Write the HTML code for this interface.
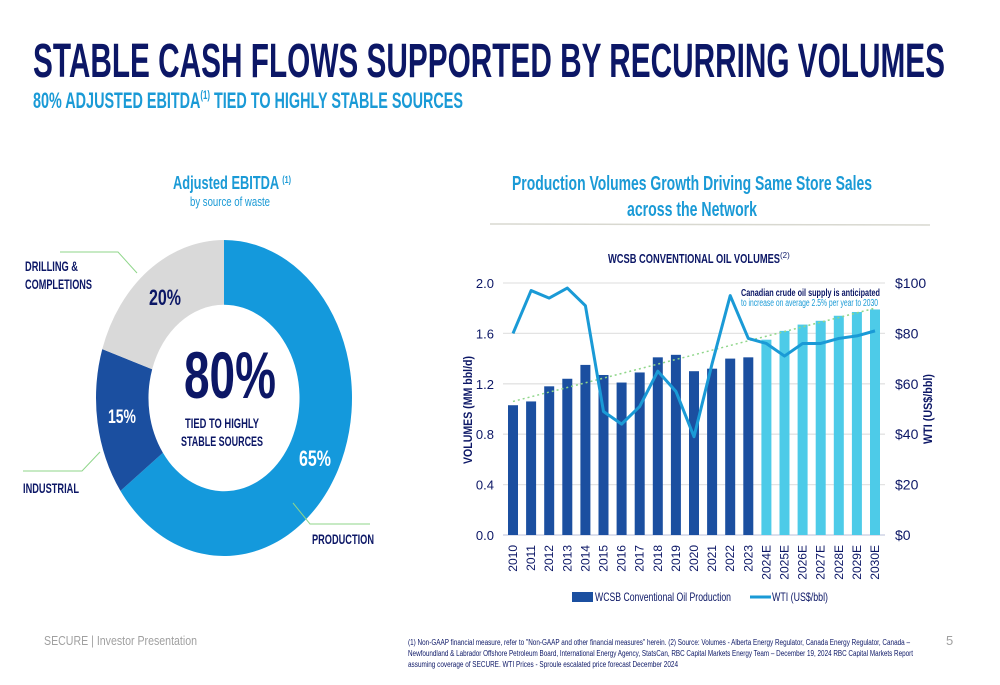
<!DOCTYPE html>
<html><head><meta charset="utf-8"><style>
html,body{margin:0;padding:0;background:#fff;width:1000px;height:685px;overflow:hidden}
svg{display:block}
text{font-family:"Liberation Sans",sans-serif}
</style></head><body>
<svg id="page" width="1000" height="685" viewBox="0 0 1000 685">
<text x="33" y="77" font-size="48" font-weight="bold" fill="#0c1766" textLength="912" lengthAdjust="spacingAndGlyphs">STABLE CASH FLOWS SUPPORTED BY RECURRING VOLUMES</text>
<text x="33" y="108" font-size="22" font-weight="bold" fill="#1a9ad6" textLength="430" lengthAdjust="spacingAndGlyphs">80% ADJUSTED EBITDA<tspan font-size="12" dy="-9">(1)</tspan><tspan dy="9"> TIED TO HIGHLY STABLE SOURCES</tspan></text>

<!-- Donut -->
<g>
<text x="173" y="189" font-size="18" font-weight="bold" fill="#1a9ad6" textLength="118" lengthAdjust="spacingAndGlyphs">Adjusted EBITDA <tspan font-size="10" dy="-6">(1)</tspan></text>
<text x="190" y="206" font-size="13" fill="#1a9ad6" textLength="80" lengthAdjust="spacingAndGlyphs">by source of waste</text>
<g id="donut"></g>
<text x="230" y="398" font-size="66" font-weight="bold" fill="#0c1766" text-anchor="middle" textLength="92" lengthAdjust="spacingAndGlyphs">80%</text>
<text x="222" y="428" font-size="14" font-weight="bold" fill="#0c1766" text-anchor="middle" textLength="74" lengthAdjust="spacingAndGlyphs">TIED TO HIGHLY</text>
<text x="222" y="446" font-size="14" font-weight="bold" fill="#0c1766" text-anchor="middle" textLength="82" lengthAdjust="spacingAndGlyphs">STABLE SOURCES</text>
<text x="165" y="305" font-size="22" font-weight="bold" fill="#0c1766" text-anchor="middle" textLength="32" lengthAdjust="spacingAndGlyphs">20%</text>
<text x="122" y="423" font-size="19" font-weight="bold" fill="#fff" text-anchor="middle" textLength="28" lengthAdjust="spacingAndGlyphs">15%</text>
<text x="315" y="466" font-size="22" font-weight="bold" fill="#fff" text-anchor="middle" textLength="32" lengthAdjust="spacingAndGlyphs">65%</text>
<polyline points="60,252 118,252 137,273" fill="none" stroke="#8fd68a" stroke-width="1"/>
<polyline points="23,471 82,471 100,452" fill="none" stroke="#8fd68a" stroke-width="1"/>
<polyline points="293,503 310,524 370,524" fill="none" stroke="#8fd68a" stroke-width="1"/>
<text x="25" y="271" font-size="14" font-weight="bold" fill="#0c1766" textLength="53" lengthAdjust="spacingAndGlyphs">DRILLING &amp;</text>
<text x="25" y="289" font-size="14" font-weight="bold" fill="#0c1766" textLength="67" lengthAdjust="spacingAndGlyphs">COMPLETIONS</text>
<text x="23" y="493" font-size="14" font-weight="bold" fill="#0c1766" textLength="56" lengthAdjust="spacingAndGlyphs">INDUSTRIAL</text>
<text x="312" y="544" font-size="14" font-weight="bold" fill="#0c1766" textLength="62" lengthAdjust="spacingAndGlyphs">PRODUCTION</text>
</g>

<!-- Right headings -->
<text x="692" y="190" font-size="20" fill="#1a9ad6" font-weight="bold" text-anchor="middle" textLength="360" lengthAdjust="spacingAndGlyphs">Production Volumes Growth Driving Same Store Sales</text>
<text x="692" y="216" font-size="20" fill="#1a9ad6" font-weight="bold" text-anchor="middle" textLength="130" lengthAdjust="spacingAndGlyphs">across the Network</text>
<line x1="490" y1="224" x2="930" y2="225" stroke="#d8d8d0" stroke-width="1.5"/>
<text x="608" y="263" font-size="13" font-weight="bold" fill="#0c1766" textLength="172" lengthAdjust="spacingAndGlyphs">WCSB CONVENTIONAL OIL VOLUMES</text>
<text x="780" y="258" font-size="8" fill="#0c1766">(2)</text>
<g id="chart"></g>

<!-- Footer -->
<text x="44" y="645" font-size="13" fill="#a0a0a0" textLength="153" lengthAdjust="spacingAndGlyphs">SECURE  |  Investor Presentation</text>
<g font-size="8" fill="#0c1766">
<text x="408" y="645" textLength="502" lengthAdjust="spacingAndGlyphs">(1) Non-GAAP financial measure, refer to "Non-GAAP and other financial measures" herein. (2) Source: Volumes - Alberta Energy Regulator, Canada Energy Regulator, Canada –</text>
<text x="408" y="656" textLength="505" lengthAdjust="spacingAndGlyphs">Newfoundland &amp; Labrador Offshore Petroleum Board, International Energy Agency, StatsCan, RBC Capital Markets Energy Team – December 19, 2024 RBC Capital Markets Report</text>
<text x="408" y="667" textLength="270" lengthAdjust="spacingAndGlyphs">assuming coverage of SECURE. WTI Prices -  Sproule escalated price forecast December 2024</text>
</g>
<text x="946" y="645" font-size="13" fill="#a0a0a0">5</text>
</svg>
<script>
const NS='http://www.w3.org/2000/svg';
const donutLabels=['Production','Industrial','Drilling & Completions'];
const donutValues=[65,15,20];
const categories=['2010','2011','2012','2013','2014','2015','2016','2017','2018','2019','2020','2021','2022','2023','2024E','2025E','2026E','2027E','2028E','2029E','2030E'];
const volumes=[1.03,1.06,1.18,1.24,1.35,1.27,1.21,1.29,1.41,1.43,1.30,1.32,1.40,1.41,1.55,1.62,1.67,1.70,1.74,1.77,1.79];
const wti=[80,97,94,98,91,49,44,51,65,57,39,68,95,78,76,71,76,76,78,79,81];
const leftTicks=['0.0','0.4','0.8','1.2','1.6','2.0'];
const rightTicks=['$0','$20','$40','$60','$80','$100'];
const trendStart=1.06, trendEnd=1.80;

function mk(tag,attrs,parent){const e=document.createElementNS(NS,tag);for(const k in attrs)e.setAttribute(k,attrs[k]);parent.appendChild(e);return e;}

// donut
(function(){
  const g=document.getElementById('donut');
  const cx=224,cy=398,rx=128,ry=158,ri=0.59;
  const colors=['#1499dc','#1b4fa0','#d9d9d9'];
  const total=donutValues.reduce((a,b)=>a+b,0);
  let a0=0;
  const pt=(a,r)=>[cx+rx*r*Math.sin(a),cy-ry*r*Math.cos(a)];
  donutValues.forEach((v,i)=>{
    const a1=a0+v/total*2*Math.PI;
    const lg=(a1-a0)>Math.PI?1:0;
    const p1=pt(a0,1),p2=pt(a1,1),p3=pt(a1,ri),p4=pt(a0,ri);
    const d=`M${p1}A${rx},${ry} 0 ${lg} 1 ${p2}L${p3}A${rx*ri},${ry*ri} 0 ${lg} 0 ${p4}Z`;
    const p=mk('path',{d:d,fill:colors[i]},g);
    
    
    a0=a1;
  });
})();

// bar/line chart
(function(){
  const g=document.getElementById('chart');
  const x0=513,x1=875,y0=535,yTop=283;
  const xs=i=>x0+(x1-x0)*i/(categories.length-1);
  const yL=v=>y0-(y0-yTop)*v/2.0;
  const yR=v=>y0-(y0-yTop)*v/100;
  leftTicks.forEach((t,i)=>{
    const y=yL(parseFloat(t));
    const ln=mk('line',{x1:503,x2:885,y1:y,y2:y,stroke:i===0?'#c8cce0':'#e3e3e3','stroke-width':1.3},g);
    
    
    const tx=mk('text',{x:494,y:y+5,'font-size':13,fill:'#0c1766','text-anchor':'end'},g);
    tx.textContent=t;
    
    
  });
  rightTicks.forEach((t,i)=>{
    const y=yR(i*20);
    const tx=mk('text',{x:895,y:y+5,'font-size':14,fill:'#0c1766'},g);
    tx.textContent=t;
    
    
  });
  categories.forEach((c,i)=>{
    const x=xs(i);
    const r=mk('rect',{x:x-5,y:yL(volumes[i]),width:10,height:y0-yL(volumes[i]),fill:c.endsWith('E')?'#4dcbe8':'#1b4fa0'},g);
    
    
    const t=mk('text',{x:x+4,y:545,'font-size':12,fill:'#0c1766','text-anchor':'end',transform:`rotate(-90 ${x+4} 545)`},g);
    t.textContent=c;
    
    
  });
  const tr=mk('line',{x1:xs(0),y1:yL(trendStart),x2:xs(categories.length-1),y2:yL(trendEnd),stroke:'#8fd68a','stroke-width':1.5,'stroke-dasharray':'2,3'},g);
  
  
  const pl=mk('polyline',{points:wti.map((v,i)=>xs(i)+','+yR(v)).join(' '),fill:'none',stroke:'#1a9ad6','stroke-width':3,'stroke-linejoin':'round'},g);
  
  
  const a1=mk('text',{x:741,y:296,'font-size':10,'font-weight':'bold',fill:'#0c1766',textLength:139,lengthAdjust:'spacingAndGlyphs'},g);
  a1.textContent='Canadian crude oil supply is anticipated';
  
  
  const a2=mk('text',{x:741,y:306,'font-size':10,fill:'#1a9ad6',textLength:137,lengthAdjust:'spacingAndGlyphs'},g);
  a2.textContent='to increase on average  2.5% per year to 2030';
  
  
  const yt=mk('text',{x:472,y:410,'font-size':12,'font-weight':'bold',fill:'#0c1766','text-anchor':'middle',transform:'rotate(-90 472 410)',textLength:108,lengthAdjust:'spacingAndGlyphs'},g);
  yt.textContent='VOLUMES (MM bbl/d)';
  
  
  const rt=mk('text',{x:932,y:409,'font-size':12,'font-weight':'bold',fill:'#0c1766','text-anchor':'middle',transform:'rotate(-90 932 409)',textLength:70,lengthAdjust:'spacingAndGlyphs'},g);
  rt.textContent='WTI (US$/bbl)';
  
  
  const lr=mk('rect',{x:572,y:592,width:21,height:10,fill:'#1b4fa0'},g);
  
  
  const lt=mk('text',{x:595,y:601,'font-size':12,fill:'#0c1766',textLength:136,lengthAdjust:'spacingAndGlyphs'},g);
  lt.textContent='WCSB Conventional Oil Production';
  
  
  const ll=mk('line',{x1:750,x2:771,y1:597,y2:597,stroke:'#1a9ad6','stroke-width':3},g);
  
  
  const lt2=mk('text',{x:772,y:601,'font-size':12,fill:'#0c1766',textLength:56,lengthAdjust:'spacingAndGlyphs'},g);
  lt2.textContent='WTI (US$/bbl)';
  
  
})();
</script>
</body></html>
